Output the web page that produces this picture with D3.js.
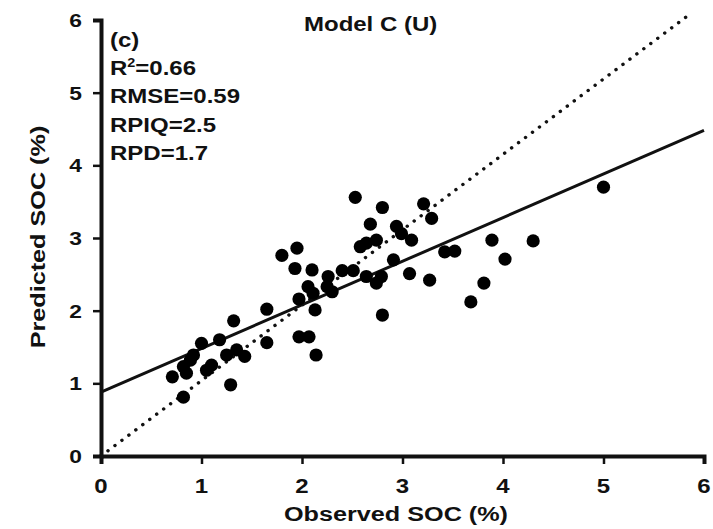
<!DOCTYPE html>
<html>
<head>
<meta charset="utf-8">
<script src="https://cdn.jsdelivr.net/npm/d3@7"></script>
<style>
  body { margin: 0; background: #fff; }
  svg text { font-family: "Liberation Sans", Arial, sans-serif; font-weight: bold; fill: #111; }
</style>
</head>
<body>
<svg id="chart" width="713" height="529"></svg>
<script>
// observed vs predicted SOC (%)
const observed = [0.71, 0.82, 0.82, 0.85, 0.89, 0.92, 1.00, 1.05, 1.10, 1.18, 1.25, 1.29, 1.32, 1.35, 1.43, 1.65, 1.65,
  1.80, 1.95, 1.93, 1.97, 1.97, 2.07, 2.14, 2.10, 2.06, 2.11, 2.13, 2.26, 2.25, 2.30, 2.40, 2.51, 2.53, 2.58, 2.64, 2.74,
  2.68, 2.80, 2.64, 2.74, 2.79, 2.80, 2.91, 2.94, 2.99, 3.09, 3.07, 3.21, 3.29, 3.27, 3.42, 3.52, 3.68, 3.81, 3.89, 4.02,
  4.30, 5.00];
const predicted = [1.09, 0.81, 1.23, 1.14, 1.32, 1.39, 1.55, 1.18, 1.25, 1.60, 1.39, 0.98, 1.86, 1.46, 1.37, 2.02, 1.56,
  2.76, 2.86, 2.58, 2.16, 1.64, 1.64, 1.39, 2.56, 2.33, 2.24, 2.01, 2.47, 2.33, 2.26, 2.55, 2.55, 3.56, 2.88, 2.93, 2.97,
  3.19, 3.42, 2.47, 2.38, 2.47, 1.94, 2.70, 3.16, 3.06, 2.97, 2.51, 3.47, 3.27, 2.42, 2.81, 2.82, 2.12, 2.38, 2.97, 2.71,
  2.96, 3.70];

const fitLine = [[0, 0.88], [6, 4.48]];     // regression line
const oneToOne = [[0, 0], [5.84, 6.06]];    // dotted 1:1 line, as drawn
const xTicks = [0, 1, 2, 3, 4, 5, 6];
const yTicks = [0, 1, 2, 3, 4, 5, 6];
const stats = ["(c)", "R2=0.66", "RMSE=0.59", "RPIQ=2.5", "RPD=1.7"];
const title = "Model C (U)";

const margin = {top: 20, right: 9, bottom: 73, left: 101};
const W = 713, H = 529;
const w = W - margin.left - margin.right, h = H - margin.top - margin.bottom;
const SX = 1.2; // glyphs in the figure are a bit wide

const svg = d3.select("#chart");
const g = svg.append("g").attr("transform", `translate(${margin.left},${margin.top})`);

const x = d3.scaleLinear().domain([0, 6]).range([0, w]);
const y = d3.scaleLinear().domain([0, 6]).range([h, 0]);

function wideText(sel, tx, ty, size, anchor) {
  return sel.append("text")
    .attr("transform", `translate(${tx},${ty}) scale(${SX},1)`)
    .attr("font-size", size)
    .attr("text-anchor", anchor || "start");
}

// lines
const line = d3.line().x(d => x(d[0])).y(d => y(d[1]));
g.append("path").datum(oneToOne).attr("d", line)
  .attr("fill", "none").attr("stroke", "#111").attr("stroke-width", 3.4)
  .attr("stroke-linecap", "round").attr("stroke-dasharray", "0.1 8.6");
g.append("path").datum(fitLine).attr("d", line)
  .attr("fill", "none").attr("stroke", "#111").attr("stroke-width", 3);

// points
g.selectAll("circle.pt").data(observed.map((o, i) => [o, predicted[i]]))
  .join("circle").attr("class", "pt")
  .attr("cx", d => x(d[0])).attr("cy", d => y(d[1])).attr("r", 6.6)
  .attr("fill", "#000");

// axes
const xAxis = g.append("g").attr("transform", `translate(0,${h})`)
  .call(d3.axisBottom(x).tickValues(xTicks).tickSize(8).tickFormat(""));
const yAxis = g.append("g")
  .call(d3.axisLeft(y).tickValues(yTicks).tickSize(8).tickFormat(""));
[xAxis, yAxis].forEach(a => {
  a.select(".domain").attr("stroke", "#111").attr("stroke-width", 4);
  a.selectAll(".tick line").attr("stroke", "#111").attr("stroke-width", 2.5);
});

xTicks.forEach(t => wideText(g, x(t), h + 37, 20, "middle").text(t));
yTicks.forEach(t => wideText(g, -19, y(t) + 7, 19, "end").text(t));

// labels
wideText(svg, 396, 521, 21, "middle").text("Observed SOC (%)");
svg.append("text")
  .attr("transform", `translate(45,237) rotate(-90) scale(${SX},1)`)
  .attr("font-size", 21).attr("text-anchor", "middle")
  .text("Predicted SOC (%)");

wideText(svg, 304, 31, 20, "start").text(title);

stats.forEach((s, i) => {
  const t = wideText(svg, 110, 47 + i * 28.2, 20, "start");
  if (s.startsWith("R2")) {
    t.append("tspan").text("R");
    t.append("tspan").attr("font-size", 12).attr("dy", -8).text("2");
    t.append("tspan").attr("dy", 8).text(s.slice(2));
  } else {
    t.text(s);
  }
});
</script>
</body>
</html>
